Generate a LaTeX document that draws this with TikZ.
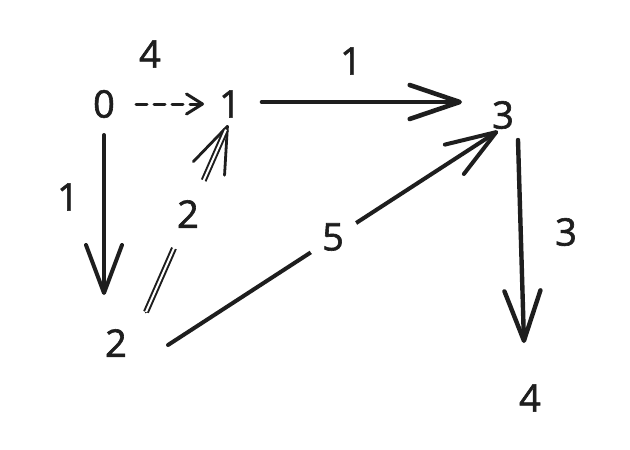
\documentclass[tikz,border=0pt]{standalone}
\usepackage{fontspec}
\setmainfont{Open Sans}
\newfontfamily\digitfont{Open Sans}[FakeBold=1.6]
\usetikzlibrary{arrows.meta}
\definecolor{ink}{HTML}{1E1E1E}
\begin{document}
\begin{tikzpicture}[x=1pt,y=-1pt,
  vtx/.style={font=\digitfont\fontsize{38}{40}\selectfont, inner sep=0pt, text=ink},
  lbl/.style={font=\digitfont\fontsize{38}{40}\selectfont, inner sep=0pt, text=ink},
  gapc/.style={circle, fill=white, inner sep=0pt},
  edge/.style={draw=ink, line width=4pt, line cap=round},
  ]
\useasboundingbox[fill=white] (0,0) rectangle (630,450);
% vertices
\node[vtx] (n0) at (104,104) {0};
\node[vtx] (n1) at (230,104) {1};
\node[vtx] (n3) at (503,115) {3};
\node[vtx] (n2) at (116,343) {2};
\node[vtx] (n4) at (530,398) {4};
% edges
\draw[edge, line width=3pt, dash pattern=on 11pt off 7pt,
  -{Straight Barb[length=16pt,width=20pt,round]}]
  ([xshift=32pt]n0.center) -- ([xshift=-26pt]n1.center);
\draw[edge, line width=4.6pt, -{Straight Barb[length=50pt,width=34pt,round]}]
  ([shift={(32,-2)}]n1.center) -- ([shift={(-41,-13)}]n3.center);
\draw[edge, -{Straight Barb[length=48pt,width=36pt,round]}]
  ([shift={(0,31)}]n0.center) -- ([shift={(-12,-48)}]n2.center);
\draw[edge, line width=4.4pt, -{Straight Barb[length=50pt,width=36pt,round]}]
  ([shift={(15,25)}]n3.center) -- ([shift={(-6,-55)}]n4.center);
\draw[edge, -{Straight Barb[length=50pt,width=35pt,round]}]
  ([shift={(52,2)}]n2.center) -- ([shift={(-5,16)}]n3.center);
\draw[edge, line width=2.8pt, -{Straight Barb[length=46pt,width=34pt,round]}]
  ([shift={(30,-31)}]n2.center) -- ([shift={(-2,21)}]n1.center);
\draw[draw=ink, line width=2pt, double=white, double distance=2pt, shorten >=5pt]
  ([shift={(30,-31)}]n2.center) -- ([shift={(-2,21)}]n1.center);
% edge labels
\node[lbl] (l01) at (150,54) {4};
\node[lbl] (l13) at (351,61) {1};
\node[lbl] (l02) at (68,197) {1};
\node[lbl] (l34) at (566,232) {3};
\node[lbl, gapc, minimum size=74pt] (l21) at (188,214) {2};
\node[lbl, gapc, minimum size=54pt] (l23) at (333,237) {5};
\end{tikzpicture}
\end{document}
